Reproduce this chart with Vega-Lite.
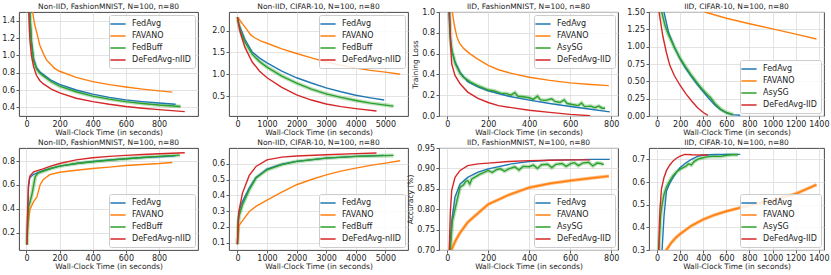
{
  "$schema": "https://vega.github.io/schema/vega-lite/v6.json",
  "padding": {"left": 1, "top": 2, "right": 0, "bottom": 0},
  "config": {
    "font": "DejaVu Sans",
    "view": {"stroke": "#333333", "strokeWidth": 0.9},
    "axis": {"grid": true, "gridColor": "#dcdcdc", "gridWidth": 0.8, "domain": false, "tickColor": "#333333", "tickSize": 3, "tickWidth": 0.8, "labelFontSize": 8, "labelColor": "#222222", "labelPadding": 1.5, "titleFontSize": 7.5, "titleFontWeight": "normal", "titleColor": "#222222", "titlePadding": 0},
    "title": {"fontSize": 7.5, "fontWeight": "normal", "offset": 2, "color": "#222222", "frame": "group"},
    "legend": {"title": null, "fillColor": "rgba(255,255,255,0.85)", "strokeColor": "#cccccc", "cornerRadius": 2, "padding": 4, "offset": 3, "labelFontSize": 8, "labelColor": "#222222", "symbolType": "M-1.9,0L1.9,0", "symbolStrokeWidth": 1.5, "symbolSize": 64, "labelOffset": 9, "rowPadding": 3, "labelLimit": 200}
  },
  "datasets": {
    "p1": [
      {"s":"FedAvg","x":10,"y":2.3},{"s":"FedAvg","x":20,"y":1.5},{"s":"FedAvg","x":30,"y":1.17},{"s":"FedAvg","x":43,"y":0.96},{"s":"FedAvg","x":60,"y":0.86},{"s":"FedAvg","x":80,"y":0.81},{"s":"FedAvg","x":100,"y":0.78},{"s":"FedAvg","x":150,"y":0.71},{"s":"FedAvg","x":200,"y":0.665},{"s":"FedAvg","x":300,"y":0.6},{"s":"FedAvg","x":400,"y":0.552},{"s":"FedAvg","x":500,"y":0.515},{"s":"FedAvg","x":600,"y":0.486},{"s":"FedAvg","x":700,"y":0.466},{"s":"FedAvg","x":800,"y":0.45},{"s":"FedAvg","x":900,"y":0.435},
      {"s":"FAVANO","x":10,"y":2.3},{"s":"FAVANO","x":37,"y":1.5},{"s":"FAVANO","x":50,"y":1.35},{"s":"FAVANO","x":63,"y":1.256},{"s":"FAVANO","x":80,"y":1.12},{"s":"FAVANO","x":102,"y":1.02},{"s":"FAVANO","x":120,"y":0.95},{"s":"FAVANO","x":141,"y":0.906},{"s":"FAVANO","x":170,"y":0.85},{"s":"FAVANO","x":200,"y":0.816},{"s":"FAVANO","x":300,"y":0.745},{"s":"FAVANO","x":400,"y":0.696},{"s":"FAVANO","x":500,"y":0.662},{"s":"FAVANO","x":600,"y":0.634},{"s":"FAVANO","x":700,"y":0.61},{"s":"FAVANO","x":800,"y":0.59},{"s":"FAVANO","x":880,"y":0.575},
      {"s":"FedBuff","x":10,"y":2.3},{"s":"FedBuff","x":20,"y":1.48},{"s":"FedBuff","x":30,"y":1.14},{"s":"FedBuff","x":43,"y":0.94},{"s":"FedBuff","x":60,"y":0.845},{"s":"FedBuff","x":80,"y":0.795},{"s":"FedBuff","x":100,"y":0.766},{"s":"FedBuff","x":150,"y":0.695},{"s":"FedBuff","x":200,"y":0.645},{"s":"FedBuff","x":300,"y":0.58},{"s":"FedBuff","x":400,"y":0.53},{"s":"FedBuff","x":500,"y":0.495},{"s":"FedBuff","x":600,"y":0.466},{"s":"FedBuff","x":700,"y":0.445},{"s":"FedBuff","x":800,"y":0.427},{"s":"FedBuff","x":930,"y":0.41},
      {"s":"DeFedAvg-nIID","x":8,"y":2.3},{"s":"DeFedAvg-nIID","x":14,"y":1.5},{"s":"DeFedAvg-nIID","x":20,"y":1.2},{"s":"DeFedAvg-nIID","x":30,"y":1.0},{"s":"DeFedAvg-nIID","x":43,"y":0.87},{"s":"DeFedAvg-nIID","x":60,"y":0.77},{"s":"DeFedAvg-nIID","x":80,"y":0.71},{"s":"DeFedAvg-nIID","x":100,"y":0.673},{"s":"DeFedAvg-nIID","x":150,"y":0.61},{"s":"DeFedAvg-nIID","x":200,"y":0.567},{"s":"DeFedAvg-nIID","x":300,"y":0.505},{"s":"DeFedAvg-nIID","x":400,"y":0.466},{"s":"DeFedAvg-nIID","x":500,"y":0.435},{"s":"DeFedAvg-nIID","x":600,"y":0.41},{"s":"DeFedAvg-nIID","x":700,"y":0.39},{"s":"DeFedAvg-nIID","x":800,"y":0.373},{"s":"DeFedAvg-nIID","x":955,"y":0.35}
    ],
    "p2": [
      {"s":"FedAvg","x":0,"y":2.31},{"s":"FedAvg","x":50,"y":2.15},{"s":"FedAvg","x":100,"y":2.05},{"s":"FedAvg","x":250,"y":1.8},{"s":"FedAvg","x":500,"y":1.51},{"s":"FedAvg","x":750,"y":1.37},{"s":"FedAvg","x":1000,"y":1.26},{"s":"FedAvg","x":1500,"y":1.07},{"s":"FedAvg","x":2000,"y":0.92},{"s":"FedAvg","x":2500,"y":0.8},{"s":"FedAvg","x":3000,"y":0.69},{"s":"FedAvg","x":3500,"y":0.6},{"s":"FedAvg","x":4000,"y":0.52},{"s":"FedAvg","x":4500,"y":0.46},{"s":"FedAvg","x":4960,"y":0.41},
      {"s":"FAVANO","x":0,"y":2.31},{"s":"FAVANO","x":100,"y":2.22},{"s":"FAVANO","x":200,"y":2.13},{"s":"FAVANO","x":300,"y":2.04},{"s":"FAVANO","x":450,"y":1.9},{"s":"FAVANO","x":600,"y":1.83},{"s":"FAVANO","x":800,"y":1.76},{"s":"FAVANO","x":1000,"y":1.71},{"s":"FAVANO","x":1500,"y":1.58},{"s":"FAVANO","x":2000,"y":1.475},{"s":"FAVANO","x":2500,"y":1.375},{"s":"FAVANO","x":3000,"y":1.28},{"s":"FAVANO","x":3500,"y":1.205},{"s":"FAVANO","x":4000,"y":1.14},{"s":"FAVANO","x":4500,"y":1.09},{"s":"FAVANO","x":5000,"y":1.05},{"s":"FAVANO","x":5500,"y":1.0},
      {"s":"FedBuff","x":0,"y":2.31},{"s":"FedBuff","x":50,"y":2.13},{"s":"FedBuff","x":100,"y":2.0},{"s":"FedBuff","x":250,"y":1.74},{"s":"FedBuff","x":500,"y":1.46},{"s":"FedBuff","x":750,"y":1.29},{"s":"FedBuff","x":1000,"y":1.165},{"s":"FedBuff","x":1500,"y":0.96},{"s":"FedBuff","x":2000,"y":0.795},{"s":"FedBuff","x":2500,"y":0.66},{"s":"FedBuff","x":3000,"y":0.55},{"s":"FedBuff","x":3500,"y":0.47},{"s":"FedBuff","x":4000,"y":0.4},{"s":"FedBuff","x":4500,"y":0.34},{"s":"FedBuff","x":5000,"y":0.295},{"s":"FedBuff","x":5275,"y":0.27},
      {"s":"DeFedAvg-nIID","x":0,"y":2.31},{"s":"DeFedAvg-nIID","x":50,"y":2.1},{"s":"DeFedAvg-nIID","x":100,"y":1.95},{"s":"DeFedAvg-nIID","x":250,"y":1.62},{"s":"DeFedAvg-nIID","x":500,"y":1.28},{"s":"DeFedAvg-nIID","x":750,"y":1.07},{"s":"DeFedAvg-nIID","x":1000,"y":0.92},{"s":"DeFedAvg-nIID","x":1500,"y":0.7},{"s":"DeFedAvg-nIID","x":2000,"y":0.53},{"s":"DeFedAvg-nIID","x":2500,"y":0.41},{"s":"DeFedAvg-nIID","x":3000,"y":0.32},{"s":"DeFedAvg-nIID","x":3500,"y":0.26},{"s":"DeFedAvg-nIID","x":4000,"y":0.215},{"s":"DeFedAvg-nIID","x":4700,"y":0.16}
    ],
    "p3": [
      {"s":"FedAvg","x":3,"y":2.3},{"s":"FedAvg","x":8,"y":1.0},{"s":"FedAvg","x":15,"y":0.75},{"s":"FedAvg","x":22,"y":0.63},{"s":"FedAvg","x":38,"y":0.52},{"s":"FedAvg","x":63,"y":0.42},{"s":"FedAvg","x":100,"y":0.33},{"s":"FedAvg","x":150,"y":0.28},{"s":"FedAvg","x":200,"y":0.243},{"s":"FedAvg","x":300,"y":0.19},{"s":"FedAvg","x":400,"y":0.153},{"s":"FedAvg","x":500,"y":0.12},{"s":"FedAvg","x":600,"y":0.091},{"s":"FedAvg","x":700,"y":0.065},{"s":"FedAvg","x":793,"y":0.04},
      {"s":"FAVANO","x":10,"y":2.3},{"s":"FAVANO","x":25,"y":1.0},{"s":"FAVANO","x":35,"y":0.87},{"s":"FAVANO","x":47,"y":0.763},{"s":"FAVANO","x":60,"y":0.7},{"s":"FAVANO","x":80,"y":0.65},{"s":"FAVANO","x":110,"y":0.6},{"s":"FAVANO","x":147,"y":0.55},{"s":"FAVANO","x":200,"y":0.487},{"s":"FAVANO","x":250,"y":0.445},{"s":"FAVANO","x":313,"y":0.41},{"s":"FAVANO","x":400,"y":0.373},{"s":"FAVANO","x":500,"y":0.343},{"s":"FAVANO","x":600,"y":0.318},{"s":"FAVANO","x":700,"y":0.303},{"s":"FAVANO","x":788,"y":0.292},
      {"s":"AsySG","x":5,"y":2.3},{"s":"AsySG","x":10,"y":1.0},{"s":"AsySG","x":17,"y":0.72},{"s":"AsySG","x":24,"y":0.62},{"s":"AsySG","x":40,"y":0.5},{"s":"AsySG","x":63,"y":0.41},{"s":"AsySG","x":80,"y":0.37},{"s":"AsySG","x":90,"y":0.36},{"s":"AsySG","x":100,"y":0.345},{"s":"AsySG","x":110,"y":0.33},{"s":"AsySG","x":130,"y":0.31},{"s":"AsySG","x":150,"y":0.29},{"s":"AsySG","x":175,"y":0.27},{"s":"AsySG","x":200,"y":0.25},{"s":"AsySG","x":230,"y":0.24},{"s":"AsySG","x":260,"y":0.22},{"s":"AsySG","x":290,"y":0.215},{"s":"AsySG","x":310,"y":0.2},{"s":"AsySG","x":330,"y":0.225},{"s":"AsySG","x":345,"y":0.19},{"s":"AsySG","x":370,"y":0.185},{"s":"AsySG","x":400,"y":0.175},{"s":"AsySG","x":420,"y":0.16},{"s":"AsySG","x":440,"y":0.19},{"s":"AsySG","x":455,"y":0.155},{"s":"AsySG","x":480,"y":0.15},{"s":"AsySG","x":510,"y":0.165},{"s":"AsySG","x":525,"y":0.14},{"s":"AsySG","x":550,"y":0.13},{"s":"AsySG","x":570,"y":0.155},{"s":"AsySG","x":585,"y":0.12},{"s":"AsySG","x":610,"y":0.11},{"s":"AsySG","x":640,"y":0.1},{"s":"AsySG","x":655,"y":0.125},{"s":"AsySG","x":670,"y":0.09},{"s":"AsySG","x":700,"y":0.095},{"s":"AsySG","x":720,"y":0.08},{"s":"AsySG","x":740,"y":0.095},{"s":"AsySG","x":755,"y":0.075},{"s":"AsySG","x":770,"y":0.075},
      {"s":"DeFedAvg-IID","x":3,"y":2.3},{"s":"DeFedAvg-IID","x":12,"y":1.0},{"s":"DeFedAvg-IID","x":16,"y":0.7},{"s":"DeFedAvg-IID","x":22,"y":0.5},{"s":"DeFedAvg-IID","x":38,"y":0.39},{"s":"DeFedAvg-IID","x":63,"y":0.31},{"s":"DeFedAvg-IID","x":100,"y":0.23},{"s":"DeFedAvg-IID","x":150,"y":0.17},{"s":"DeFedAvg-IID","x":200,"y":0.13},{"s":"DeFedAvg-IID","x":250,"y":0.1},{"s":"DeFedAvg-IID","x":313,"y":0.08},{"s":"DeFedAvg-IID","x":400,"y":0.055},{"s":"DeFedAvg-IID","x":500,"y":0.035},{"s":"DeFedAvg-IID","x":600,"y":0.016},{"s":"DeFedAvg-IID","x":697,"y":0.003}
    ],
    "p4": [
      {"s":"FedAvg","x":30,"y":2.3},{"s":"FedAvg","x":60,"y":1.5},{"s":"FedAvg","x":100,"y":1.2},{"s":"FedAvg","x":150,"y":0.99},{"s":"FedAvg","x":200,"y":0.82},{"s":"FedAvg","x":250,"y":0.68},{"s":"FedAvg","x":300,"y":0.56},{"s":"FedAvg","x":350,"y":0.45},{"s":"FedAvg","x":400,"y":0.35},{"s":"FedAvg","x":450,"y":0.25},{"s":"FedAvg","x":500,"y":0.16},{"s":"FedAvg","x":550,"y":0.09},{"s":"FedAvg","x":600,"y":0.045},{"s":"FedAvg","x":650,"y":0.02},{"s":"FedAvg","x":720,"y":0.01},
      {"s":"FAVANO","x":0,"y":2.3},{"s":"FAVANO","x":100,"y":1.95},{"s":"FAVANO","x":200,"y":1.75},{"s":"FAVANO","x":300,"y":1.6},{"s":"FAVANO","x":413,"y":1.5},{"s":"FAVANO","x":600,"y":1.41},{"s":"FAVANO","x":800,"y":1.33},{"s":"FAVANO","x":1000,"y":1.257},{"s":"FAVANO","x":1200,"y":1.18},{"s":"FAVANO","x":1380,"y":1.11},
      {"s":"AsySG","x":20,"y":2.3},{"s":"AsySG","x":40,"y":1.5},{"s":"AsySG","x":70,"y":1.3},{"s":"AsySG","x":100,"y":1.17},{"s":"AsySG","x":150,"y":0.99},{"s":"AsySG","x":200,"y":0.83},{"s":"AsySG","x":250,"y":0.7},{"s":"AsySG","x":300,"y":0.58},{"s":"AsySG","x":350,"y":0.47},{"s":"AsySG","x":400,"y":0.37},{"s":"AsySG","x":440,"y":0.3},{"s":"AsySG","x":460,"y":0.27},{"s":"AsySG","x":500,"y":0.18},{"s":"AsySG","x":550,"y":0.1},{"s":"AsySG","x":600,"y":0.05},{"s":"AsySG","x":660,"y":0.02},
      {"s":"DeFedAvg-IID","x":5,"y":2.3},{"s":"DeFedAvg-IID","x":17,"y":1.5},{"s":"DeFedAvg-IID","x":50,"y":1.15},{"s":"DeFedAvg-IID","x":80,"y":0.92},{"s":"DeFedAvg-IID","x":110,"y":0.73},{"s":"DeFedAvg-IID","x":150,"y":0.58},{"s":"DeFedAvg-IID","x":200,"y":0.44},{"s":"DeFedAvg-IID","x":250,"y":0.32},{"s":"DeFedAvg-IID","x":297,"y":0.22},{"s":"DeFedAvg-IID","x":350,"y":0.12},{"s":"DeFedAvg-IID","x":400,"y":0.05},{"s":"DeFedAvg-IID","x":440,"y":0.01}
    ],
    "p5": [
      {"s":"FedAvg","x":3,"y":0.1},{"s":"FedAvg","x":8,"y":0.38},{"s":"FedAvg","x":12,"y":0.58},{"s":"FedAvg","x":20,"y":0.66},{"s":"FedAvg","x":43,"y":0.69},{"s":"FedAvg","x":100,"y":0.72},{"s":"FedAvg","x":150,"y":0.74},{"s":"FedAvg","x":200,"y":0.758},{"s":"FedAvg","x":300,"y":0.78},{"s":"FedAvg","x":400,"y":0.797},{"s":"FedAvg","x":500,"y":0.81},{"s":"FedAvg","x":600,"y":0.82},{"s":"FedAvg","x":700,"y":0.83},{"s":"FedAvg","x":800,"y":0.837},{"s":"FedAvg","x":900,"y":0.845},
      {"s":"FAVANO","x":3,"y":0.1},{"s":"FAVANO","x":8,"y":0.24},{"s":"FAVANO","x":20,"y":0.39},{"s":"FAVANO","x":43,"y":0.46},{"s":"FAVANO","x":63,"y":0.5},{"s":"FAVANO","x":82,"y":0.6},{"s":"FAVANO","x":100,"y":0.645},{"s":"FAVANO","x":141,"y":0.687},{"s":"FAVANO","x":200,"y":0.707},{"s":"FAVANO","x":300,"y":0.724},{"s":"FAVANO","x":400,"y":0.738},{"s":"FAVANO","x":500,"y":0.75},{"s":"FAVANO","x":600,"y":0.763},{"s":"FAVANO","x":700,"y":0.772},{"s":"FAVANO","x":800,"y":0.78},{"s":"FAVANO","x":880,"y":0.789},
      {"s":"FedBuff","x":3,"y":0.1},{"s":"FedBuff","x":8,"y":0.3},{"s":"FedBuff","x":14,"y":0.42},{"s":"FedBuff","x":33,"y":0.52},{"s":"FedBuff","x":53,"y":0.67},{"s":"FedBuff","x":70,"y":0.7},{"s":"FedBuff","x":100,"y":0.715},{"s":"FedBuff","x":150,"y":0.74},{"s":"FedBuff","x":200,"y":0.758},{"s":"FedBuff","x":300,"y":0.78},{"s":"FedBuff","x":400,"y":0.795},{"s":"FedBuff","x":500,"y":0.808},{"s":"FedBuff","x":600,"y":0.82},{"s":"FedBuff","x":700,"y":0.83},{"s":"FedBuff","x":800,"y":0.84},{"s":"FedBuff","x":925,"y":0.85},
      {"s":"DeFedAvg-nIID","x":3,"y":0.1},{"s":"DeFedAvg-nIID","x":8,"y":0.4},{"s":"DeFedAvg-nIID","x":12,"y":0.6},{"s":"DeFedAvg-nIID","x":20,"y":0.673},{"s":"DeFedAvg-nIID","x":43,"y":0.71},{"s":"DeFedAvg-nIID","x":100,"y":0.735},{"s":"DeFedAvg-nIID","x":150,"y":0.76},{"s":"DeFedAvg-nIID","x":200,"y":0.78},{"s":"DeFedAvg-nIID","x":300,"y":0.81},{"s":"DeFedAvg-nIID","x":400,"y":0.828},{"s":"DeFedAvg-nIID","x":500,"y":0.84},{"s":"DeFedAvg-nIID","x":600,"y":0.848},{"s":"DeFedAvg-nIID","x":700,"y":0.856},{"s":"DeFedAvg-nIID","x":800,"y":0.862},{"s":"DeFedAvg-nIID","x":955,"y":0.87}
    ],
    "p6": [
      {"s":"FedAvg","x":0,"y":0.09},{"s":"FedAvg","x":30,"y":0.25},{"s":"FedAvg","x":57,"y":0.3},{"s":"FedAvg","x":170,"y":0.36},{"s":"FedAvg","x":400,"y":0.445},{"s":"FedAvg","x":628,"y":0.513},{"s":"FedAvg","x":1000,"y":0.566},{"s":"FedAvg","x":1500,"y":0.597},{"s":"FedAvg","x":2000,"y":0.615},{"s":"FedAvg","x":3000,"y":0.636},{"s":"FedAvg","x":4000,"y":0.647},{"s":"FedAvg","x":4960,"y":0.653},
      {"s":"FAVANO","x":0,"y":0.09},{"s":"FAVANO","x":57,"y":0.21},{"s":"FAVANO","x":170,"y":0.238},{"s":"FAVANO","x":400,"y":0.297},{"s":"FAVANO","x":628,"y":0.33},{"s":"FAVANO","x":1000,"y":0.37},{"s":"FAVANO","x":1500,"y":0.42},{"s":"FAVANO","x":2000,"y":0.467},{"s":"FAVANO","x":2500,"y":0.5},{"s":"FAVANO","x":3000,"y":0.53},{"s":"FAVANO","x":3500,"y":0.553},{"s":"FAVANO","x":4000,"y":0.572},{"s":"FAVANO","x":4500,"y":0.59},{"s":"FAVANO","x":5000,"y":0.604},{"s":"FAVANO","x":5500,"y":0.619},
      {"s":"FedBuff","x":0,"y":0.09},{"s":"FedBuff","x":30,"y":0.22},{"s":"FedBuff","x":57,"y":0.27},{"s":"FedBuff","x":170,"y":0.34},{"s":"FedBuff","x":400,"y":0.435},{"s":"FedBuff","x":628,"y":0.51},{"s":"FedBuff","x":1000,"y":0.562},{"s":"FedBuff","x":1500,"y":0.595},{"s":"FedBuff","x":2000,"y":0.615},{"s":"FedBuff","x":3000,"y":0.636},{"s":"FedBuff","x":4000,"y":0.647},{"s":"FedBuff","x":5275,"y":0.653},
      {"s":"DeFedAvg-nIID","x":0,"y":0.09},{"s":"DeFedAvg-nIID","x":30,"y":0.25},{"s":"DeFedAvg-nIID","x":60,"y":0.31},{"s":"DeFedAvg-nIID","x":170,"y":0.414},{"s":"DeFedAvg-nIID","x":400,"y":0.526},{"s":"DeFedAvg-nIID","x":628,"y":0.583},{"s":"DeFedAvg-nIID","x":1000,"y":0.625},{"s":"DeFedAvg-nIID","x":1500,"y":0.642},{"s":"DeFedAvg-nIID","x":2000,"y":0.649},{"s":"DeFedAvg-nIID","x":3000,"y":0.657},{"s":"DeFedAvg-nIID","x":4000,"y":0.664},{"s":"DeFedAvg-nIID","x":4700,"y":0.668}
    ],
    "p7": [
      {"s":"FedAvg","x":3,"y":0.3},{"s":"FedAvg","x":13,"y":0.7},{"s":"FedAvg","x":22,"y":0.77},{"s":"FedAvg","x":38,"y":0.83},{"s":"FedAvg","x":63,"y":0.862},{"s":"FedAvg","x":100,"y":0.878},{"s":"FedAvg","x":150,"y":0.891},{"s":"FedAvg","x":200,"y":0.899},{"s":"FedAvg","x":313,"y":0.911},{"s":"FedAvg","x":400,"y":0.917},{"s":"FedAvg","x":500,"y":0.92},{"s":"FedAvg","x":600,"y":0.921},{"s":"FedAvg","x":700,"y":0.922},{"s":"FedAvg","x":793,"y":0.922},
      {"s":"FAVANO","x":5,"y":0.5},{"s":"FAVANO","x":20,"y":0.7},{"s":"FAVANO","x":40,"y":0.722},{"s":"FAVANO","x":60,"y":0.74},{"s":"FAVANO","x":100,"y":0.768},{"s":"FAVANO","x":150,"y":0.79},{"s":"FAVANO","x":200,"y":0.812},{"s":"FAVANO","x":300,"y":0.835},{"s":"FAVANO","x":400,"y":0.853},{"s":"FAVANO","x":500,"y":0.863},{"s":"FAVANO","x":600,"y":0.87},{"s":"FAVANO","x":700,"y":0.876},{"s":"FAVANO","x":788,"y":0.881},
      {"s":"AsySG","x":3,"y":0.3},{"s":"AsySG","x":15,"y":0.7},{"s":"AsySG","x":25,"y":0.77},{"s":"AsySG","x":47,"y":0.82},{"s":"AsySG","x":63,"y":0.854},{"s":"AsySG","x":80,"y":0.86},{"s":"AsySG","x":90,"y":0.868},{"s":"AsySG","x":100,"y":0.87},{"s":"AsySG","x":110,"y":0.862},{"s":"AsySG","x":120,"y":0.874},{"s":"AsySG","x":140,"y":0.88},{"s":"AsySG","x":160,"y":0.886},{"s":"AsySG","x":180,"y":0.89},{"s":"AsySG","x":200,"y":0.895},{"s":"AsySG","x":220,"y":0.89},{"s":"AsySG","x":240,"y":0.897},{"s":"AsySG","x":260,"y":0.899},{"s":"AsySG","x":280,"y":0.893},{"s":"AsySG","x":300,"y":0.899},{"s":"AsySG","x":330,"y":0.904},{"s":"AsySG","x":350,"y":0.896},{"s":"AsySG","x":370,"y":0.905},{"s":"AsySG","x":400,"y":0.904},{"s":"AsySG","x":420,"y":0.908},{"s":"AsySG","x":440,"y":0.9},{"s":"AsySG","x":460,"y":0.909},{"s":"AsySG","x":490,"y":0.91},{"s":"AsySG","x":510,"y":0.902},{"s":"AsySG","x":530,"y":0.91},{"s":"AsySG","x":560,"y":0.912},{"s":"AsySG","x":580,"y":0.905},{"s":"AsySG","x":600,"y":0.911},{"s":"AsySG","x":620,"y":0.914},{"s":"AsySG","x":640,"y":0.907},{"s":"AsySG","x":660,"y":0.913},{"s":"AsySG","x":690,"y":0.915},{"s":"AsySG","x":710,"y":0.906},{"s":"AsySG","x":730,"y":0.913},{"s":"AsySG","x":750,"y":0.912},{"s":"AsySG","x":763,"y":0.909},
      {"s":"DeFedAvg-IID","x":3,"y":0.3},{"s":"DeFedAvg-IID","x":10,"y":0.7},{"s":"DeFedAvg-IID","x":15,"y":0.79},{"s":"DeFedAvg-IID","x":22,"y":0.846},{"s":"DeFedAvg-IID","x":38,"y":0.878},{"s":"DeFedAvg-IID","x":63,"y":0.895},{"s":"DeFedAvg-IID","x":100,"y":0.907},{"s":"DeFedAvg-IID","x":150,"y":0.911},{"s":"DeFedAvg-IID","x":200,"y":0.913},{"s":"DeFedAvg-IID","x":300,"y":0.917},{"s":"DeFedAvg-IID","x":400,"y":0.919},{"s":"DeFedAvg-IID","x":500,"y":0.92},{"s":"DeFedAvg-IID","x":600,"y":0.921},{"s":"DeFedAvg-IID","x":697,"y":0.921}
    ],
    "p8": [
      {"s":"FedAvg","x":30,"y":0.1},{"s":"FedAvg","x":43,"y":0.3},{"s":"FedAvg","x":60,"y":0.45},{"s":"FedAvg","x":81,"y":0.56},{"s":"FedAvg","x":110,"y":0.595},{"s":"FedAvg","x":139,"y":0.62},{"s":"FedAvg","x":170,"y":0.645},{"s":"FedAvg","x":200,"y":0.664},{"s":"FedAvg","x":250,"y":0.685},{"s":"FedAvg","x":297,"y":0.7},{"s":"FedAvg","x":350,"y":0.713},{"s":"FedAvg","x":400,"y":0.719},{"s":"FedAvg","x":500,"y":0.721},{"s":"FedAvg","x":600,"y":0.722},{"s":"FedAvg","x":720,"y":0.722},
      {"s":"FAVANO","x":60,"y":0.25},{"s":"FAVANO","x":81,"y":0.3},{"s":"FAVANO","x":120,"y":0.33},{"s":"FAVANO","x":160,"y":0.353},{"s":"FAVANO","x":200,"y":0.371},{"s":"FAVANO","x":300,"y":0.408},{"s":"FAVANO","x":400,"y":0.435},{"s":"FAVANO","x":500,"y":0.455},{"s":"FAVANO","x":600,"y":0.471},{"s":"FAVANO","x":800,"y":0.497},{"s":"FAVANO","x":1000,"y":0.519},{"s":"FAVANO","x":1200,"y":0.548},{"s":"FAVANO","x":1380,"y":0.588},
      {"s":"AsySG","x":5,"y":0.1},{"s":"AsySG","x":15,"y":0.3},{"s":"AsySG","x":30,"y":0.45},{"s":"AsySG","x":43,"y":0.5},{"s":"AsySG","x":60,"y":0.545},{"s":"AsySG","x":81,"y":0.577},{"s":"AsySG","x":110,"y":0.605},{"s":"AsySG","x":139,"y":0.628},{"s":"AsySG","x":170,"y":0.645},{"s":"AsySG","x":200,"y":0.657},{"s":"AsySG","x":230,"y":0.665},{"s":"AsySG","x":250,"y":0.67},{"s":"AsySG","x":270,"y":0.68},{"s":"AsySG","x":297,"y":0.675},{"s":"AsySG","x":320,"y":0.69},{"s":"AsySG","x":350,"y":0.7},{"s":"AsySG","x":380,"y":0.705},{"s":"AsySG","x":420,"y":0.71},{"s":"AsySG","x":450,"y":0.712},{"s":"AsySG","x":500,"y":0.714},{"s":"AsySG","x":550,"y":0.713},{"s":"AsySG","x":600,"y":0.718},{"s":"AsySG","x":650,"y":0.72},{"s":"AsySG","x":700,"y":0.72},
      {"s":"DeFedAvg-IID","x":5,"y":0.1},{"s":"DeFedAvg-IID","x":14,"y":0.3},{"s":"DeFedAvg-IID","x":25,"y":0.48},{"s":"DeFedAvg-IID","x":38,"y":0.57},{"s":"DeFedAvg-IID","x":60,"y":0.62},{"s":"DeFedAvg-IID","x":81,"y":0.65},{"s":"DeFedAvg-IID","x":110,"y":0.675},{"s":"DeFedAvg-IID","x":139,"y":0.693},{"s":"DeFedAvg-IID","x":170,"y":0.706},{"s":"DeFedAvg-IID","x":200,"y":0.714},{"s":"DeFedAvg-IID","x":240,"y":0.722},{"s":"DeFedAvg-IID","x":300,"y":0.72},{"s":"DeFedAvg-IID","x":400,"y":0.719},{"s":"DeFedAvg-IID","x":440,"y":0.719}
    ]
  },
  "columns": 4,
  "align": "each",
  "bounds": "flush",
  "spacing": {"row": 32, "column": 31},
  "resolve": {"scale": {"color": "independent"}},
  "concat": [
    {
      "width": 179, "height": 104,
      "title": "Non-IID, FashionMNIST, N=100, n=80",
      "data": {"name": "p1"},
      "encoding": {
        "x": {"field": "x", "type": "quantitative", "scale": {"domain": [-45, 1035], "nice": false, "zero": false}, "axis": {"title": "Wall-Clock Time (in seconds)", "values": [0, 200, 400, 600, 800], "format": "d"}},
        "y": {"field": "y", "type": "quantitative", "scale": {"domain": [0.3, 1.5], "nice": false, "zero": false}, "axis": {"title": null, "values": [0.4, 0.6, 0.8, 1.0, 1.2, 1.4], "format": ".1f"}}
      },
      "layer": [
        {"transform": [{"filter": "datum.s === 'FedBuff' || datum.s === 'AsySG'"}], "mark": {"type": "line", "clip": true, "color": "#2ca02c", "opacity": 0.3, "strokeWidth": 4}},
        {"mark": {"type": "line", "clip": true, "strokeWidth": 1.4}, "encoding": {"color": {"field": "s", "type": "nominal", "scale": {"domain": ["FedAvg", "FAVANO", "FedBuff", "DeFedAvg-nIID"], "range": ["#1f77b4", "#ff7f0e", "#2ca02c", "#d62728"]}, "legend": {"orient": "top-right"}}}}
      ]
    },
    {
      "width": 179, "height": 104,
      "title": "Non-IID, CIFAR-10, N=100, n=80",
      "data": {"name": "p2"},
      "encoding": {
        "x": {"field": "x", "type": "quantitative", "scale": {"domain": [-285, 5765], "nice": false, "zero": false}, "axis": {"title": "Wall-Clock Time (in seconds)", "values": [0, 1000, 2000, 3000, 4000, 5000], "format": "d"}},
        "y": {"field": "y", "type": "quantitative", "scale": {"domain": [0.045, 2.425], "nice": false, "zero": false}, "axis": {"title": null, "values": [0.5, 1.0, 1.5, 2.0], "format": ".1f"}}
      },
      "layer": [
        {"transform": [{"filter": "datum.s === 'FedBuff' || datum.s === 'AsySG'"}], "mark": {"type": "line", "clip": true, "color": "#2ca02c", "opacity": 0.3, "strokeWidth": 4}},
        {"mark": {"type": "line", "clip": true, "strokeWidth": 1.4}, "encoding": {"color": {"field": "s", "type": "nominal", "scale": {"domain": ["FedAvg", "FAVANO", "FedBuff", "DeFedAvg-nIID"], "range": ["#1f77b4", "#ff7f0e", "#2ca02c", "#d62728"]}, "legend": {"orient": "top-right"}}}}
      ]
    },
    {
      "width": 179, "height": 104,
      "title": {"text": "IID, FashionMNIST, N=100, n=80", "offset": -2},
      "data": {"name": "p3"},
      "encoding": {
        "x": {"field": "x", "type": "quantitative", "scale": {"domain": [-40, 833], "nice": false, "zero": false}, "axis": {"title": "Wall-Clock Time (in seconds)", "values": [0, 200, 400, 600, 800], "format": "d"}},
        "y": {"field": "y", "type": "quantitative", "scale": {"domain": [0, 1], "nice": false, "zero": false}, "axis": {"title": "Training Loss", "values": [0, 0.2, 0.4, 0.6, 0.8, 1.0], "format": ".1f", "titlePadding": 2}}
      },
      "layer": [
        {"transform": [{"filter": "datum.s === 'FedBuff' || datum.s === 'AsySG'"}], "mark": {"type": "line", "clip": true, "color": "#2ca02c", "opacity": 0.3, "strokeWidth": 4}},
        {"mark": {"type": "line", "clip": true, "strokeWidth": 1.4}, "encoding": {"color": {"field": "s", "type": "nominal", "scale": {"domain": ["FedAvg", "FAVANO", "AsySG", "DeFedAvg-IID"], "range": ["#1f77b4", "#ff7f0e", "#2ca02c", "#d62728"]}, "legend": {"orient": "top-right"}}}}
      ]
    },
    {
      "width": 175, "height": 104,
      "title": {"text": "IID, CIFAR-10, N=100, n=80", "offset": -2},
      "data": {"name": "p4"},
      "encoding": {
        "x": {"field": "x", "type": "quantitative", "scale": {"domain": [-70, 1445], "nice": false, "zero": false}, "axis": {"title": "Wall-Clock Time (in seconds)", "values": [0, 200, 400, 600, 800, 1000, 1200, 1400], "format": "d"}},
        "y": {"field": "y", "type": "quantitative", "scale": {"domain": [0, 1.5], "nice": false, "zero": false}, "axis": {"title": null, "values": [0, 0.25, 0.5, 0.75, 1.0, 1.25, 1.5], "format": ".2f"}}
      },
      "layer": [
        {"transform": [{"filter": "datum.s === 'FedBuff' || datum.s === 'AsySG'"}], "mark": {"type": "line", "clip": true, "color": "#2ca02c", "opacity": 0.3, "strokeWidth": 4}},
        {"mark": {"type": "line", "clip": true, "strokeWidth": 1.4}, "encoding": {"color": {"field": "s", "type": "nominal", "scale": {"domain": ["FedAvg", "FAVANO", "AsySG", "DeFedAvg-IID"], "range": ["#1f77b4", "#ff7f0e", "#2ca02c", "#d62728"]}, "legend": {"orient": "bottom-right"}}}}
      ]
    },
    {
      "width": 179, "height": 102,
      "title": "Non-IID, FashionMNIST, N=100, n=80",
      "data": {"name": "p5"},
      "encoding": {
        "x": {"field": "x", "type": "quantitative", "scale": {"domain": [-45, 1035], "nice": false, "zero": false}, "axis": {"title": "Wall-Clock Time (in seconds)", "values": [0, 200, 400, 600, 800], "format": "d"}},
        "y": {"field": "y", "type": "quantitative", "scale": {"domain": [0.055, 0.91], "nice": false, "zero": false}, "axis": {"title": null, "values": [0.2, 0.4, 0.6, 0.8], "format": ".1f"}}
      },
      "layer": [
        {"transform": [{"filter": "datum.s === 'FedBuff' || datum.s === 'AsySG'"}], "mark": {"type": "line", "clip": true, "color": "#2ca02c", "opacity": 0.3, "strokeWidth": 4}},
        {"mark": {"type": "line", "clip": true, "strokeWidth": 1.4}, "encoding": {"color": {"field": "s", "type": "nominal", "scale": {"domain": ["FedAvg", "FAVANO", "FedBuff", "DeFedAvg-nIID"], "range": ["#1f77b4", "#ff7f0e", "#2ca02c", "#d62728"]}, "legend": {"orient": "bottom-right"}}}}
      ]
    },
    {
      "width": 179, "height": 102,
      "title": "Non-IID, CIFAR-10, N=100, n=80",
      "data": {"name": "p6"},
      "encoding": {
        "x": {"field": "x", "type": "quantitative", "scale": {"domain": [-285, 5765], "nice": false, "zero": false}, "axis": {"title": "Wall-Clock Time (in seconds)", "values": [0, 1000, 2000, 3000, 4000, 5000], "format": "d"}},
        "y": {"field": "y", "type": "quantitative", "scale": {"domain": [0.053, 0.7], "nice": false, "zero": false}, "axis": {"title": null, "values": [0.1, 0.2, 0.3, 0.4, 0.5, 0.6], "format": ".1f"}}
      },
      "layer": [
        {"transform": [{"filter": "datum.s === 'FedBuff' || datum.s === 'AsySG'"}], "mark": {"type": "line", "clip": true, "color": "#2ca02c", "opacity": 0.3, "strokeWidth": 4}},
        {"mark": {"type": "line", "clip": true, "strokeWidth": 1.4}, "encoding": {"color": {"field": "s", "type": "nominal", "scale": {"domain": ["FedAvg", "FAVANO", "FedBuff", "DeFedAvg-nIID"], "range": ["#1f77b4", "#ff7f0e", "#2ca02c", "#d62728"]}, "legend": {"orient": "bottom-right"}}}}
      ]
    },
    {
      "width": 179, "height": 102,
      "title": {"text": "IID, FashionMNIST, N=100, n=80", "offset": -2},
      "data": {"name": "p7"},
      "encoding": {
        "x": {"field": "x", "type": "quantitative", "scale": {"domain": [-40, 833], "nice": false, "zero": false}, "axis": {"title": "Wall-Clock Time (in seconds)", "values": [0, 200, 400, 600, 800], "format": "d"}},
        "y": {"field": "y", "type": "quantitative", "scale": {"domain": [0.7, 0.95], "nice": false, "zero": false}, "axis": {"title": "Accuracy (%)", "values": [0.7, 0.75, 0.8, 0.85, 0.9, 0.95], "format": ".2f", "titlePadding": 2}}
      },
      "layer": [
        {"transform": [{"filter": "datum.s === 'FedBuff' || datum.s === 'AsySG'"}], "mark": {"type": "line", "clip": true, "color": "#2ca02c", "opacity": 0.3, "strokeWidth": 4}},
        {"transform": [{"filter": "datum.s === 'FAVANO'"}], "mark": {"type": "line", "clip": true, "color": "#ff7f0e", "opacity": 0.6, "strokeWidth": 3.2}},
        {"mark": {"type": "line", "clip": true, "strokeWidth": 1.4}, "encoding": {"color": {"field": "s", "type": "nominal", "scale": {"domain": ["FedAvg", "FAVANO", "AsySG", "DeFedAvg-IID"], "range": ["#1f77b4", "#ff7f0e", "#2ca02c", "#d62728"]}, "legend": {"orient": "bottom-right"}}}}
      ]
    },
    {
      "width": 175, "height": 102,
      "title": "IID, CIFAR-10, N=100, n=80",
      "data": {"name": "p8"},
      "encoding": {
        "x": {"field": "x", "type": "quantitative", "scale": {"domain": [-70, 1445], "nice": false, "zero": false}, "axis": {"title": "Wall-Clock Time (in seconds)", "values": [0, 200, 400, 600, 800, 1000, 1200, 1400], "format": "d"}},
        "y": {"field": "y", "type": "quantitative", "scale": {"domain": [0.3, 0.75], "nice": false, "zero": false}, "axis": {"title": null, "values": [0.3, 0.4, 0.5, 0.6, 0.7], "format": ".1f"}}
      },
      "layer": [
        {"transform": [{"filter": "datum.s === 'FedBuff' || datum.s === 'AsySG'"}], "mark": {"type": "line", "clip": true, "color": "#2ca02c", "opacity": 0.3, "strokeWidth": 4}},
        {"transform": [{"filter": "datum.s === 'FAVANO'"}], "mark": {"type": "line", "clip": true, "color": "#ff7f0e", "opacity": 0.6, "strokeWidth": 3.2}},
        {"mark": {"type": "line", "clip": true, "strokeWidth": 1.4}, "encoding": {"color": {"field": "s", "type": "nominal", "scale": {"domain": ["FedAvg", "FAVANO", "AsySG", "DeFedAvg-IID"], "range": ["#1f77b4", "#ff7f0e", "#2ca02c", "#d62728"]}, "legend": {"orient": "bottom-right"}}}}
      ]
    }
  ]
}
